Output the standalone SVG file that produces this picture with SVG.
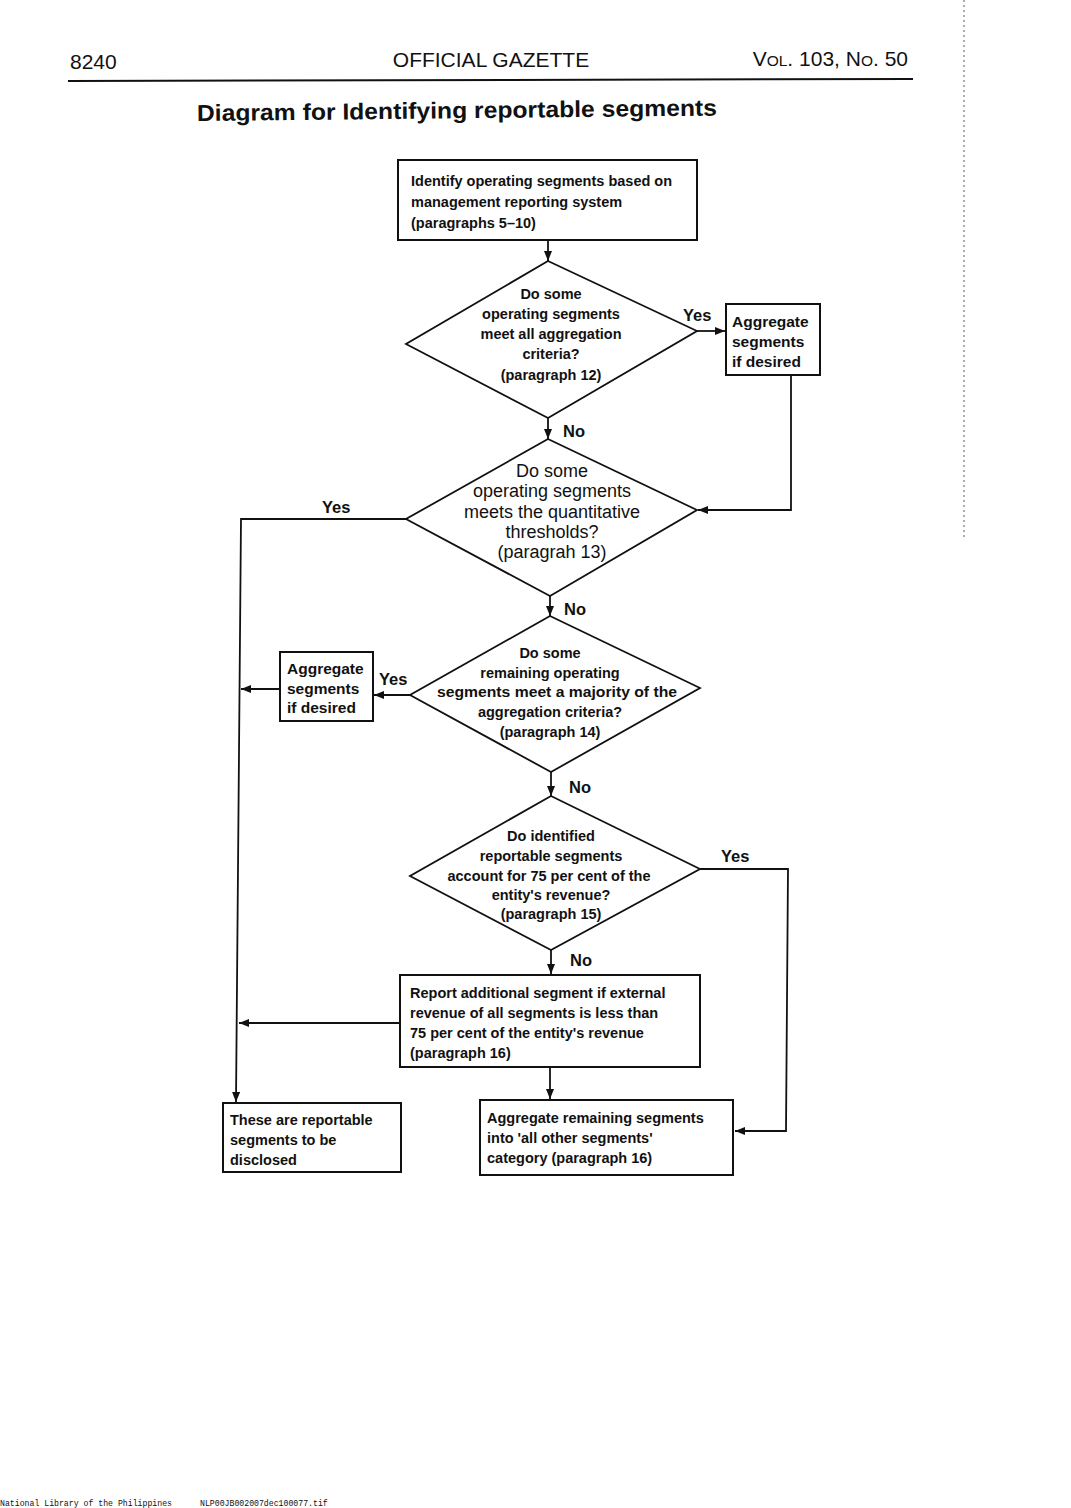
<svg xmlns="http://www.w3.org/2000/svg" width="1071" height="1508" viewBox="0 0 1071 1508">
<defs>
<marker id="ah" markerWidth="10" markerHeight="8" refX="10" refY="4" orient="auto" markerUnits="userSpaceOnUse">
<path d="M0,0 L10,4 L0,8 Z" fill="#111"/>
</marker>
<style>
.box{fill:#fff;stroke:#111;stroke-width:2}
.dia{fill:#fff;stroke:#111;stroke-width:1.8}
.ln{fill:none;stroke:#111;stroke-width:1.8}
.t{font-family:"Liberation Sans",Arial,sans-serif;font-size:14.5px;font-weight:bold;fill:#111}
.big{font-size:15.5px}
.tr{font-family:"Liberation Sans",Arial,sans-serif;font-size:18px;fill:#111}
.c{text-anchor:middle}
.lab{font-family:"Liberation Sans",Arial,sans-serif;font-size:16.5px;font-weight:bold;fill:#111}
.hd{font-family:"Liberation Sans",Arial,sans-serif;font-size:21px;fill:#111}
</style>
</defs>
<rect width="1071" height="1508" fill="#fff"/>
<line x1="964" y1="0" x2="964" y2="540" stroke="#777" stroke-width="1.2" stroke-dasharray="2,3"/>
<g id="header">
<text class="hd" x="70" y="69">8240</text>
<text class="hd" x="491" y="67" text-anchor="middle">OFFICIAL GAZETTE</text>
<text class="hd" x="908" y="66" text-anchor="end">V<tspan font-size="15.5">OL</tspan>. 103, N<tspan font-size="15.5">O</tspan>. 50</text>
<line x1="68" y1="81" x2="913" y2="79" stroke="#111" stroke-width="2"/>
<text x="197" y="121" font-family="Liberation Sans, Arial, sans-serif" font-size="23" font-weight="bold" fill="#111" textLength="520" lengthAdjust="spacingAndGlyphs" transform="rotate(-0.6 197 121)">Diagram for Identifying reportable segments</text>
</g>
<g id="connectors">
<line class="ln" x1="548" y1="240" x2="548" y2="261" marker-end="url(#ah)"/>
<line class="ln" x1="697" y1="331" x2="725" y2="331" marker-end="url(#ah)"/>
<polyline class="ln" points="791,375 791,510 698,510" marker-end="url(#ah)"/>
<line class="ln" x1="548" y1="418" x2="548" y2="439" marker-end="url(#ah)"/>
<polyline class="ln" points="406,519 241,519 236,1102" marker-end="url(#ah)"/>
<line class="ln" x1="550" y1="596" x2="550" y2="616" marker-end="url(#ah)"/>
<line class="ln" x1="410" y1="695" x2="374" y2="695" marker-end="url(#ah)"/>
<line class="ln" x1="280" y1="689" x2="241" y2="689" marker-end="url(#ah)"/>
<line class="ln" x1="551" y1="772" x2="551" y2="796" marker-end="url(#ah)"/>
<polyline class="ln" points="700,869 788,869 786,1131 735,1131" marker-end="url(#ah)"/>
<line class="ln" x1="551" y1="950" x2="551" y2="974" marker-end="url(#ah)"/>
<line class="ln" x1="400" y1="1023" x2="239" y2="1023" marker-end="url(#ah)"/>
<line class="ln" x1="550" y1="1067" x2="550" y2="1099" marker-end="url(#ah)"/>
<text class="lab" x="683" y="321">Yes</text>
<text class="lab" x="563" y="437">No</text>
<text class="lab" x="322" y="513">Yes</text>
<text class="lab" x="564" y="615">No</text>
<text class="lab" x="379" y="685">Yes</text>
<text class="lab" x="569" y="793">No</text>
<text class="lab" x="721" y="862">Yes</text>
<text class="lab" x="570" y="966">No</text>
</g>
<g id="n1">
<rect class="box" x="398" y="160" width="299" height="80"/>
<text class="t" x="411" y="186">Identify operating segments based on</text>
<text class="t" x="411" y="207">management reporting system</text>
<text class="t" x="411" y="228">(paragraphs 5–10)</text>
</g>
<g id="d1">
<polygon class="dia" points="548,261 697,331 548,418 406,344"/>
<text class="t c" x="551" y="299">Do some</text>
<text class="t c" x="551" y="319">operating segments</text>
<text class="t c" x="551" y="339">meet all aggregation</text>
<text class="t c" x="551" y="359">criteria?</text>
<text class="t c" x="551" y="380">(paragraph 12)</text>
</g>
<g id="n2">
<rect class="box" x="726" y="304" width="94" height="71"/>
<text class="t big" x="732" y="327">Aggregate</text>
<text class="t big" x="732" y="347">segments</text>
<text class="t big" x="732" y="367">if desired</text>
</g>
<g id="d2">
<polygon class="dia" points="548,439 697,510 550,596 406,519" stroke-width="2.2"/>
<text class="tr c" x="552" y="477">Do some</text>
<text class="tr c" x="552" y="497">operating segments</text>
<text class="tr c" x="552" y="518">meets the quantitative</text>
<text class="tr c" x="552" y="538">thresholds?</text>
<text class="tr c" x="552" y="558">(paragrah 13)</text>
</g>
<g id="d3">
<polygon class="dia" points="550,616 700,688 551,772 410,695"/>
<text class="t c" x="550" y="658">Do some</text>
<text class="t c" x="550" y="678">remaining operating</text>
<text class="t c" x="557" y="697" textLength="240" lengthAdjust="spacingAndGlyphs">segments meet a majority of the</text>
<text class="t c" x="550" y="717">aggregation criteria?</text>
<text class="t c" x="550" y="737">(paragraph 14)</text>
</g>
<g id="n3">
<rect class="box" x="280" y="652" width="93" height="69"/>
<text class="t big" x="287" y="674">Aggregate</text>
<text class="t big" x="287" y="694">segments</text>
<text class="t big" x="287" y="713">if desired</text>
</g>
<g id="d4">
<polygon class="dia" points="551,796 700,869 551,950 410,876"/>
<text class="t c" x="551" y="841">Do identified</text>
<text class="t c" x="551" y="861">reportable segments</text>
<text class="t c" x="549" y="881">account for 75 per cent of the</text>
<text class="t c" x="551" y="900">entity's revenue?</text>
<text class="t c" x="551" y="919">(paragraph 15)</text>
</g>
<g id="n4">
<rect class="box" x="400" y="975" width="300" height="92"/>
<text class="t" x="410" y="998">Report additional segment if external</text>
<text class="t" x="410" y="1018">revenue of all segments is less than</text>
<text class="t" x="410" y="1038">75 per cent of the entity's revenue</text>
<text class="t" x="410" y="1058">(paragraph 16)</text>
</g>
<g id="n5">
<rect class="box" x="223" y="1103" width="178" height="69"/>
<text class="t" x="230" y="1125" font-size="16">These are reportable</text>
<text class="t" x="230" y="1145" font-size="16">segments to be</text>
<text class="t" x="230" y="1165" font-size="16">disclosed</text>
</g>
<g id="n6">
<rect class="box" x="480" y="1100" width="253" height="75"/>
<text class="t" x="487" y="1123">Aggregate remaining segments</text>
<text class="t" x="487" y="1143">into 'all other segments'</text>
<text class="t" x="487" y="1163">category (paragraph 16)</text>
</g>
<text x="0" y="1506" font-family="Liberation Mono, monospace" font-size="8.2" fill="#111">National Library of the Philippines</text>
<text x="200" y="1506" font-family="Liberation Mono, monospace" font-size="8.2" fill="#111">NLP00JB002007dec100077.tif</text>
</svg>
